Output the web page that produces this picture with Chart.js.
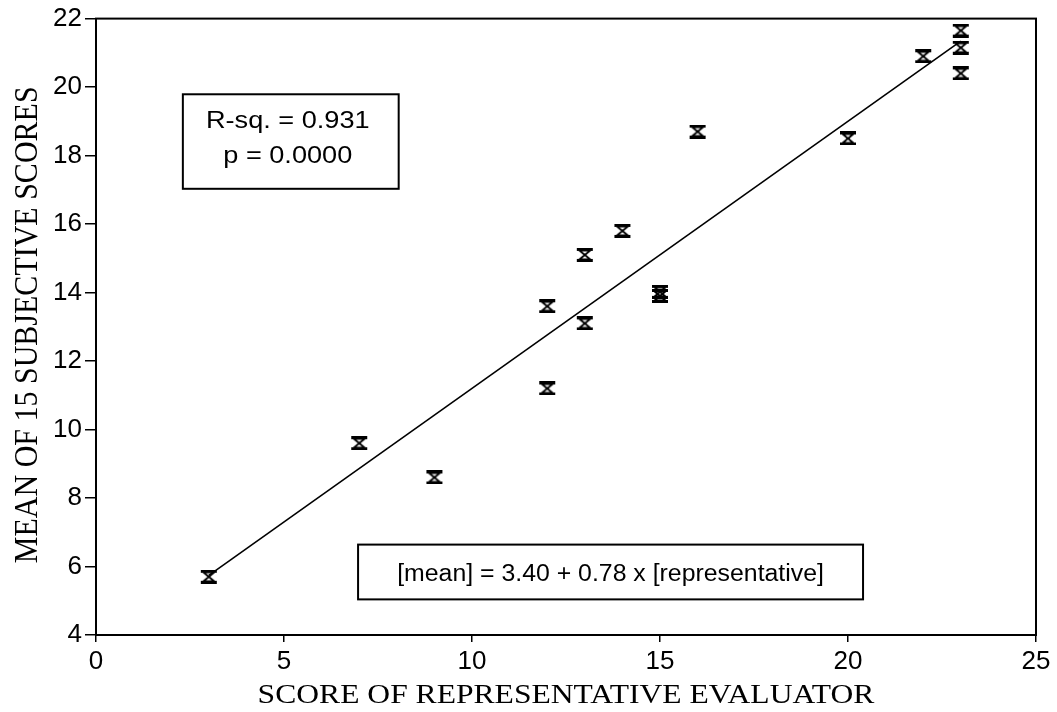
<!DOCTYPE html>
<html>
<head>
<meta charset="utf-8">
<script src="https://cdn.jsdelivr.net/npm/chart.js@4/dist/chart.umd.min.js"></script>
<style>
  html, body { margin: 0; padding: 0; background: #fff; }
  #wrap { width: 1057px; height: 712px; }
</style>
</head>
<body>
<div id="wrap"><canvas id="c" width="1057" height="712"></canvas></div>
<script>
// Score given by the representative evaluator for each product
const repScores  = [3, 7, 9, 12, 12, 13, 13, 14, 15, 15, 16, 20, 22, 23, 23, 23];
// Mean of the 15 subjective scores for the same products
const meanScores = [5.7, 9.6, 8.6, 13.6, 11.2, 15.1, 13.1, 15.8, 14.02, 13.9, 18.7, 18.5, 20.9, 21.65, 21.15, 20.4];

const xTickValues = [0, 5, 10, 15, 20, 25];
const yTickValues = [4, 6, 8, 10, 12, 14, 16, 18, 20, 22];

// Least-squares fit as printed on the chart
const fitIntercept = 3.40;
const fitSlope = 0.78;
const fitFrom = 3;
const fitTo = 23;
const rSquaredText = 'R-sq. = 0.931';
const pValueText = 'p = 0.0000';
const equationText = '[mean] = 3.40 + 0.78 x [representative]';

const xTitle = 'SCORE OF REPRESENTATIVE EVALUATOR';
const yTitle = 'MEAN OF 15 SUBJECTIVE SCORES';

const SANS = '"Liberation Sans", Arial, Helvetica, sans-serif';
const SERIF = '"Liberation Serif", "Times New Roman", serif';

// Hourglass-shaped plotting symbol
function hourglassMarker() {
  const c = document.createElement('canvas');
  c.width = 18; c.height = 14;
  const g = c.getContext('2d');
  g.fillStyle = '#000';
  g.strokeStyle = '#000';
  g.fillRect(1, 0, 16, 3);
  g.fillRect(1, 11, 16, 3);
  g.lineWidth = 1.8;
  g.beginPath();
  g.moveTo(3.5, 2.5); g.lineTo(14.5, 2.5); g.lineTo(9, 7); g.closePath();
  g.moveTo(9, 7); g.lineTo(3.5, 11.5); g.lineTo(14.5, 11.5); g.closePath();
  g.stroke();
  return c;
}

const points = repScores.map((x, i) => ({ x, y: meanScores[i] }));
const fitLine = [fitFrom, fitTo].map(x => ({ x, y: fitIntercept + fitSlope * x }));

// Draws horizontally widened text (the print face is wider than tall)
function wideText(ctx, text, x, y, font, stretch, align) {
  ctx.save();
  ctx.translate(x, y);
  ctx.scale(stretch, 1);
  ctx.font = font;
  ctx.textAlign = align || 'center';
  ctx.textBaseline = 'alphabetic';
  ctx.fillText(text, 0, 0);
  ctx.restore();
}

const framePlugin = {
  id: 'frameAndNotes',
  afterDraw(chart) {
    const { ctx, chartArea: a, scales: { x, y } } = chart;
    ctx.save();
    ctx.strokeStyle = '#000';
    ctx.fillStyle = '#000';

    // plot frame
    ctx.lineWidth = 2;
    ctx.strokeRect(a.left, a.top, a.right - a.left, a.bottom - a.top);

    // statistics box
    const b1 = { l: x.getPixelForValue(2.31), r: x.getPixelForValue(8.05),
                 t: y.getPixelForValue(19.79), b: y.getPixelForValue(17.03) };
    ctx.fillStyle = '#fff';
    ctx.fillRect(b1.l, b1.t, b1.r - b1.l, b1.b - b1.t);
    ctx.fillStyle = '#000';
    ctx.strokeRect(b1.l, b1.t, b1.r - b1.l, b1.b - b1.t);
    const c1 = (b1.l + b1.r) / 2 - 3;
    wideText(ctx, rSquaredText, c1, b1.t + 34, '23px ' + SANS, 1.18);
    wideText(ctx, pValueText, c1, b1.t + 69, '23px ' + SANS, 1.18);

    // equation box
    const b2 = { l: x.getPixelForValue(6.97), r: x.getPixelForValue(20.4),
                 t: y.getPixelForValue(6.64), b: y.getPixelForValue(5.04) };
    ctx.fillStyle = '#fff';
    ctx.fillRect(b2.l, b2.t, b2.r - b2.l, b2.b - b2.t);
    ctx.fillStyle = '#000';
    ctx.strokeRect(b2.l, b2.t, b2.r - b2.l, b2.b - b2.t);
    wideText(ctx, equationText, (b2.l + b2.r) / 2, b2.t + 36, '23px ' + SANS, 1.08);

    // axis titles
    wideText(ctx, xTitle, (a.left + a.right) / 2, 703, '27px ' + SERIF, 1.17);
    ctx.save();
    ctx.translate(37, (a.top + a.bottom) / 2 - 2);
    ctx.rotate(-Math.PI / 2);
    ctx.scale(1, 1.09);
    ctx.font = '30px ' + SERIF;
    ctx.textAlign = 'center';
    ctx.textBaseline = 'alphabetic';
    ctx.fillText(yTitle, 0, 0);
    ctx.restore();

    ctx.restore();
  }
};

new Chart(document.getElementById('c'), {
  data: {
    datasets: [
      {
        type: 'line',
        data: fitLine,
        borderColor: '#000',
        borderWidth: 1.6,
        pointRadius: 0,
        fill: false,
        tension: 0
      },
      {
        type: 'scatter',
        data: points,
        pointStyle: hourglassMarker(),
        pointRadius: 8,
        pointHoverRadius: 8,
        borderColor: '#000',
        backgroundColor: '#000'
      }
    ]
  },
  options: {
    responsive: false,
    devicePixelRatio: 1,
    animation: false,
    events: [],
    layout: { padding: { top: 15, right: 21, left: 0, bottom: 0 } },
    plugins: { legend: { display: false }, tooltip: { enabled: false } },
    scales: {
      x: {
        type: 'linear',
        min: 0, max: 25,
        afterBuildTicks: s => { s.ticks = xTickValues.map(v => ({ value: v })); },
        afterFit: s => { s.height = 77; },
        ticks: { color: '#000', font: { family: SANS, size: 26 }, padding: 4, maxRotation: 0, autoSkip: false },
        grid: { drawOnChartArea: false, drawTicks: true, tickLength: 7, color: '#000', lineWidth: 1.5 },
        border: { display: true, color: '#000', width: 2 }
      },
      y: {
        type: 'linear',
        min: 4, max: 22,
        afterBuildTicks: s => { s.ticks = yTickValues.map(v => ({ value: v })); },
        afterFit: s => { s.width = 96; },
        ticks: { color: '#000', font: { family: SANS, size: 26 }, padding: 3, autoSkip: false },
        grid: { drawOnChartArea: false, drawTicks: true, tickLength: 11, color: '#000', lineWidth: 1.5 },
        border: { display: true, color: '#000', width: 2 }
      }
    }
  },
  plugins: [framePlugin]
});
</script>
</body>
</html>
